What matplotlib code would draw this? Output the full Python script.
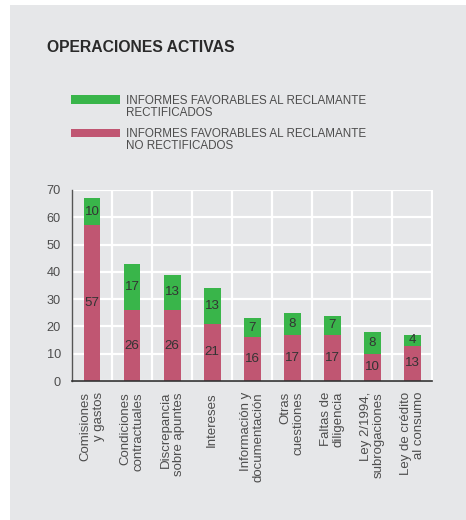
import matplotlib
matplotlib.use('Agg')
import matplotlib.pyplot as plt
import matplotlib.patches as mpatches
import numpy as np

plt.rcParams['font.family'] = ['Liberation Sans', 'DejaVu Sans']

categorias = ['Comisiones\ny gastos', 'Condiciones\ncontractuales',
              'Discrepancia\nsobre apuntes', 'Intereses',
              'Información y\ndocumentación', 'Otras\ncuestiones',
              'Faltas de\ndiligencia', 'Ley 2/1994,\nsubrogaciones',
              'Ley de crédito\nal consumo']
no_rectificados = [57, 26, 26, 21, 16, 17, 17, 10, 13]
rectificados = [10, 17, 13, 13, 7, 8, 7, 8, 4]

verde = '#39b54a'
rosa = '#c05672'
fondo = '#e6e7e9'
gris = '#4d4d4d'

W, H = 466, 520
fig = plt.figure(figsize=(W / 100, H / 100), dpi=100)
fig.patch.set_facecolor('white')

# gray panel behind everything
fig.add_artist(mpatches.Rectangle((10 / W, 0), 1 - 10 / W, 1 - 5 / H,
                                  transform=fig.transFigure,
                                  facecolor=fondo, edgecolor='none', zorder=-10))

fig.text(47 / W, 1 - 48 / H, 'OPERACIONES ACTIVAS', fontsize=11.3,
         fontweight='bold', color='#2a2a2a', va='center', ha='left')

# legend drawn by hand
leyenda = [(verde, 'INFORMES FAVORABLES AL RECLAMANTE\nRECTIFICADOS', 99.5),
           (rosa, 'INFORMES FAVORABLES AL RECLAMANTE\nNO RECTIFICADOS', 133)]
for color, texto, yc in leyenda:
    fig.add_artist(mpatches.Rectangle((71 / W, 1 - (yc + 4.2) / H), 49 / W, 8.4 / H,
                                      transform=fig.transFigure,
                                      facecolor=color, edgecolor='none'))
    fig.text(126 / W, 1 - (yc - 5) / H, texto, fontsize=8.4, color=gris,
             va='top', ha='left', linespacing=1.05)

ax = fig.add_axes([72 / W, 139 / H, 360.5 / W, 191 / H])
ax.set_facecolor(fondo)

x = np.arange(len(categorias))
ancho = 0.42
ax.bar(x, no_rectificados, ancho, color=rosa, zorder=3)
ax.bar(x, rectificados, ancho, bottom=no_rectificados, color=verde, zorder=3)

for i in range(len(x)):
    ax.text(x[i], no_rectificados[i] / 2, str(no_rectificados[i]),
            ha='center', va='center', fontsize=9.6, color='#333333', zorder=4)
    ax.text(x[i], no_rectificados[i] + rectificados[i] / 2, str(rectificados[i]),
            ha='center', va='center', fontsize=9.6, color='#333333', zorder=4)

ax.set_xlim(-0.5, len(categorias) - 0.5)
ax.set_ylim(0, 70)
ax.set_yticks(np.arange(0, 71, 10))
ax.set_xticks(x)
ax.set_xticklabels(categorias, rotation=90, ha='center', va='top',
                   multialignment='right', fontsize=9.5, color=gris,
                   linespacing=1.12)
ax.set_xticks(np.arange(-0.5, len(categorias), 1), minor=True)
ax.tick_params(axis='x', which='both', length=0, pad=8)
ax.tick_params(axis='y', length=0, pad=8, labelsize=9.2, labelcolor=gris)

ax.grid(True, axis='y', color='white', linewidth=1.6, zorder=1)
ax.grid(True, axis='x', which='minor', color='white', linewidth=1.6, zorder=1)
ax.grid(False, axis='x', which='major')
ax.set_axisbelow(True)

for lado in ['top', 'right']:
    ax.spines[lado].set_visible(False)
ax.spines['left'].set_color('#555555')
ax.spines['bottom'].set_color('#333333')
ax.spines['left'].set_linewidth(1.0)
ax.spines['bottom'].set_linewidth(1.2)
ax.spines['left'].set_zorder(5)
ax.spines['bottom'].set_zorder(5)

fig.savefig('out.png', dpi=100, facecolor=fig.get_facecolor())
